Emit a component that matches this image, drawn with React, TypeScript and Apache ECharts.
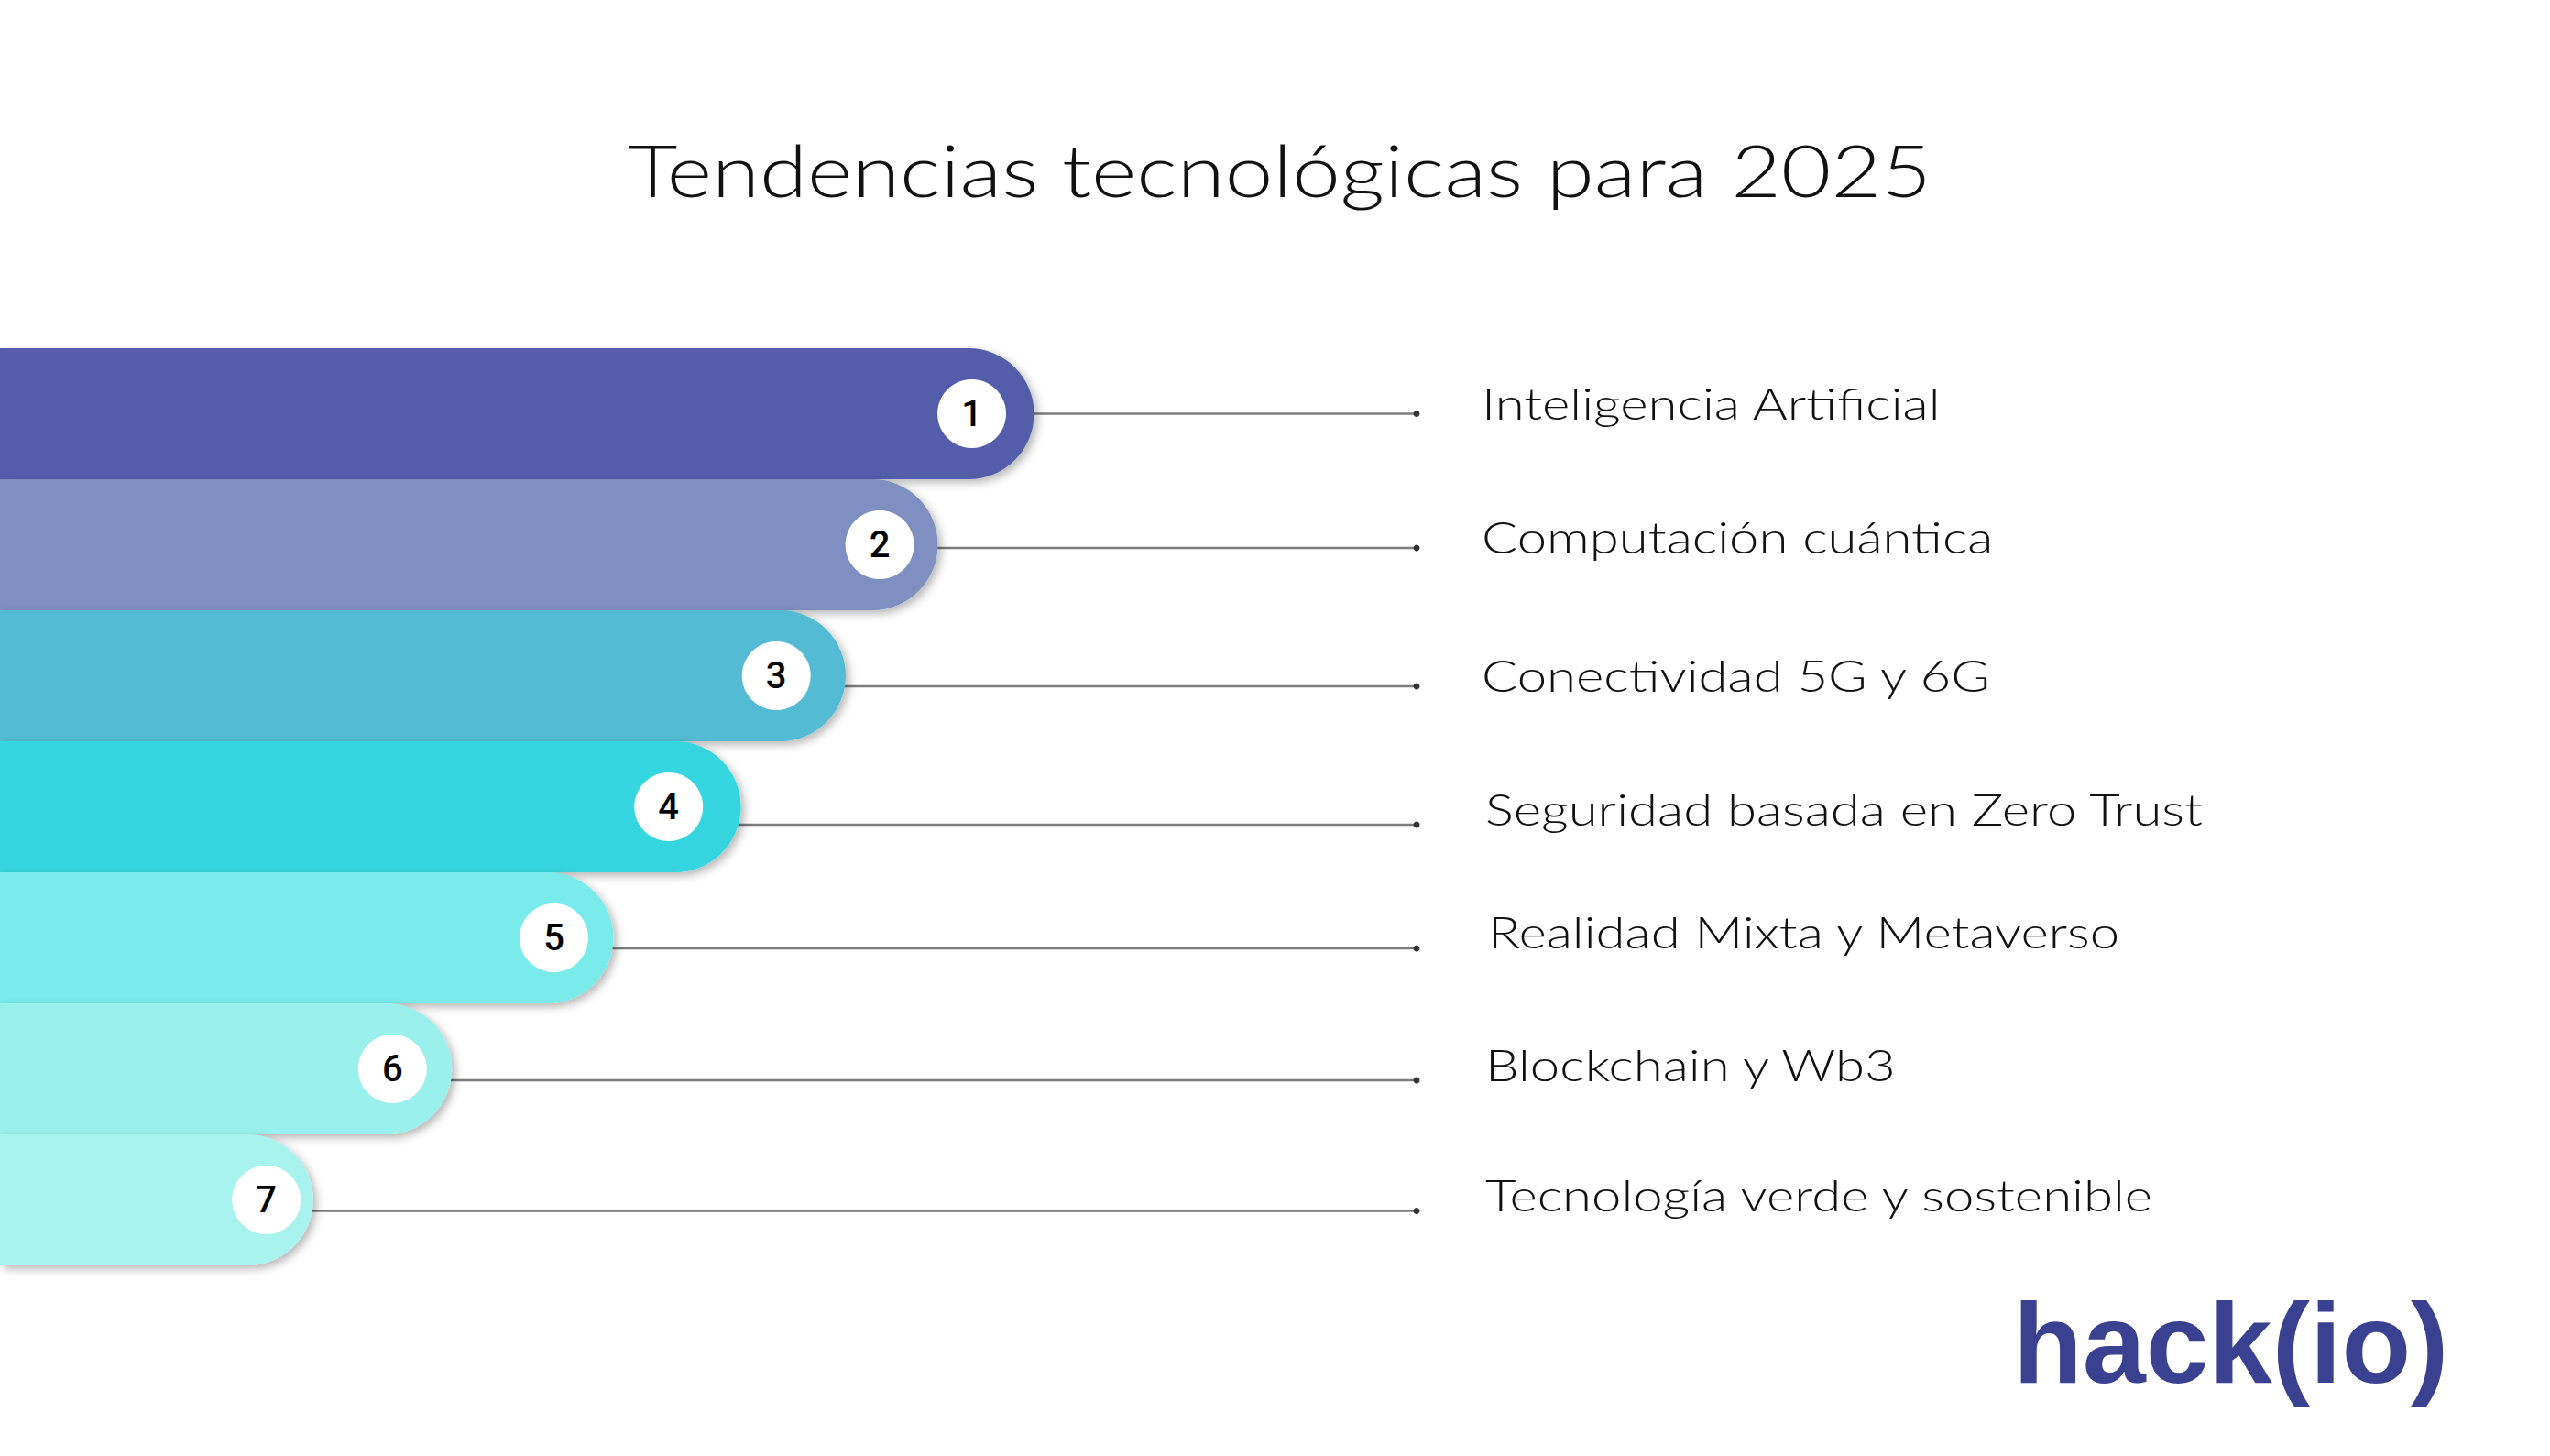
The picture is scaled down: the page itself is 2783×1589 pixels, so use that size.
import React, { useEffect, useRef } from "react";
import * as echarts from "echarts";

const W = 2783;
const H = 1589;

const titleText = "Tendencias tecnológicas para 2025";
const categories = [
  "Inteligencia Artificial",
  "Computación cuántica",
  "Conectividad 5G y 6G",
  "Seguridad basada en Zero Trust",
  "Realidad Mixta y Metaverso",
  "Blockchain y Wb3",
  "Tecnología verde y sostenible",
];
const ranks = ["1", "2", "3", "4", "5", "6", "7"];
// bar lengths (axis 0-100, 100 = end of leader lines)
const barValues = [73.0, 66.2, 59.7, 52.3, 43.3, 31.9, 22.1];
// position of the numbered badge on each bar
const badgeValues = [68.6, 62.1, 54.8, 47.2, 39.1, 27.7, 18.8];
const leaderEnd = 100;
const logoText = "hack(io)";

const barColors = ["#525DAA", "#7F8FC1", "#52BBD3", "#35D6DF", "#79EBEA", "#99F0EC", "#A9F3EE"];
const leaderDy = [0, 3.5, 11.5, 19.5, 11.5, 12.5, 12];
const labelDy = [-12, -9, -1, 2, -7, -5, -6];
const labelDx = [71, 71, 71, 75, 78, 75, 75];

const GRID_TOP = 380;
const BAND = 143;
const GRID_W = 1546;
const TEXT_STRETCH = 1.21;

export default function App() {
  const ref = useRef<HTMLDivElement>(null);
  useEffect(() => {
    if (!ref.current) return;
    const chart = echarts.init(ref.current, undefined, { renderer: "svg" });
    const radius = BAND / 2;
    chart.setOption({
      animation: false,
      backgroundColor: "#ffffff",
      grid: { left: 0, top: GRID_TOP, width: GRID_W, height: BAND * categories.length, containLabel: false },
      xAxis: { type: "value", min: 0, max: leaderEnd, show: false },
      yAxis: { type: "category", data: categories, inverse: true, show: false },
      graphic: [
        {
          type: "text",
          x: W / 2 + 5,
          y: 185,
          scaleX: TEXT_STRETCH,
          style: {
            text: titleText,
            fontFamily: "Lato",
            fontWeight: 300,
            fontSize: 78,
            fill: "#111111",
            textAlign: "center",
            textVerticalAlign: "middle",
          },
        },
        {
          type: "text",
          x: 2197,
          y: 1466,
          style: {
            text: logoText,
            fontFamily: "Liberation Sans",
            fontWeight: "bold",
            fontSize: 124,
            fill: "#3A4190",
            textAlign: "left",
            textVerticalAlign: "middle",
          },
        },
      ],
      series: [
        {
          type: "custom",
          z: 1,
          data: categories.map((_, i) => [barValues[i], i, leaderEnd]),
          encode: { x: [0, 2], y: 1 },
          renderItem: (params: any, api: any) => {
            const i = params.dataIndex;
            const start = api.coord([api.value(0), i]);
            const end = api.coord([api.value(2), i]);
            const y = start[1] + leaderDy[i];
            return {
              type: "group",
              children: [
                {
                  type: "line",
                  shape: { x1: start[0] - 20, y1: y, x2: end[0], y2: y },
                  style: { stroke: "#7c7c7c", lineWidth: 2.5 },
                },
                {
                  type: "circle",
                  shape: { cx: end[0], cy: y, r: 3.5 },
                  style: { fill: "#333333" },
                },
                {
                  type: "text",
                  x: end[0] + labelDx[i],
                  y: start[1] + labelDy[i],
                  scaleX: TEXT_STRETCH,
                  style: {
                    text: categories[i],
                    fontFamily: "Lato",
                    fontWeight: 300,
                    fontSize: 48,
                    fill: "#111111",
                    textAlign: "left",
                    textVerticalAlign: "middle",
                  },
                },
              ],
            };
          },
        },
        {
          type: "bar",
          z: 3,
          barCategoryGap: 0,
          barWidth: BAND,
          data: barValues.map((v, i) => ({
            value: v,
            itemStyle: {
              color: barColors[i],
              borderRadius: [0, radius, radius, 0],
              shadowColor: "rgba(0,0,0,0.28)",
              shadowBlur: 10,
              shadowOffsetX: 4,
              shadowOffsetY: 4,
            },
          })),
        },
        {
          type: "scatter",
          z: 5,
          symbol: "circle",
          symbolSize: 75,
          data: badgeValues.map((v, i) => [v, i]),
          itemStyle: { color: "#ffffff", opacity: 1 },
          emphasis: { disabled: true },
          label: {
            show: true,
            position: "inside",
            formatter: (p: any) => ranks[p.dataIndex],
            fontFamily: "Roboto",
            fontWeight: 500,
            fontSize: 40,
            color: "#000000",
          },
        },
      ],
    });
    return () => chart.dispose();
  }, []);
  return (
    <div
      ref={ref}
      style={{ position: "absolute", left: 0, top: 0, width: W, height: H, background: "#ffffff" }}
    />
  );
}
